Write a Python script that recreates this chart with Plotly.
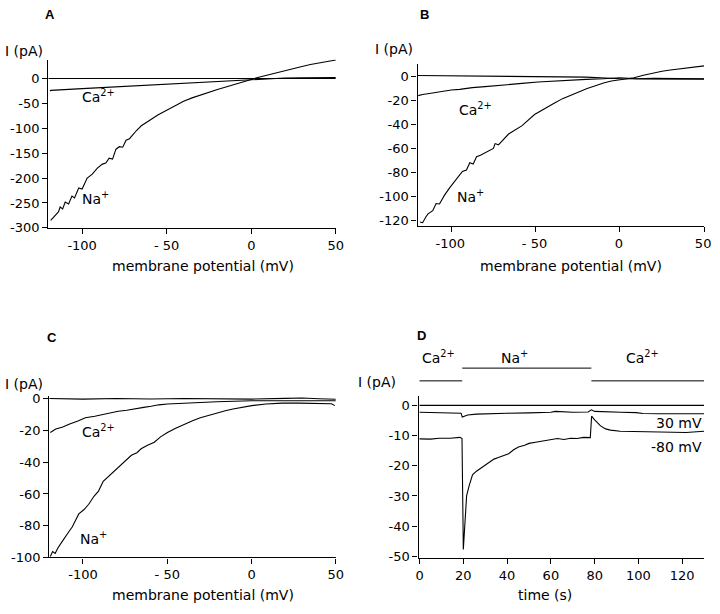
import plotly.graph_objects as go

# ---------------- Panel A ----------------
a_na_v = [-118.6, -116, -114, -113, -111.5, -110, -108, -106, -104.5, -102, -100, -97, -94, -91, -88, -86,
          -84, -82, -80, -78, -76, -74, -72, -68, -65, -60, -55, -50, -45, -40, -35, -30, -25, -20, -15,
          -10, -5, 0, 5, 10, 15, 20, 25, 30, 35, 40, 45, 50]
a_na_i = [-285, -275, -268, -258, -262, -248, -252, -236, -240, -220, -222, -200, -192, -180, -172, -170,
          -160, -162, -142, -137, -138, -124, -121, -105, -95, -84, -73, -64, -55, -46, -39, -33, -27, -22, -17,
          -12.5, -7, -2, 3, 7.5, 12, 16.5, 20, 24, 28, 31, 34, 37]
a_ca_v = [-119, -118.5, -100, -80, -60, -40, -20, 0, 10, 20, 30, 40, 50]
a_ca_i = [-25, -24, -20.5, -17, -13.5, -10, -6, -2, 0, 1, 1.5, 1.5, 2]
a_zero_v = [-120, 50]
a_zero_i = [0, 0]

# ---------------- Panel B ----------------
b_na_v = [-118.6, -117, -115, -113.8, -111, -109, -107, -104, -101, -97, -93.4, -91, -89, -87, -85, -82.7,
          -78, -75, -74, -72, -66, -58, -50.6, -45, -39, -34, -29, -24, -19.4, -14, -9.7, -5, 0, 4, 8.4,
          14, 20, 25, 30, 35, 40, 45, 50]
b_na_i = [-121.4, -122, -117, -114.6, -112, -106, -106.4, -99, -92.9, -86, -79.3, -78, -72, -73, -67, -65.7,
          -62, -60, -56, -57, -48, -41, -31.8, -27, -22.3, -18.5, -15.5, -12.5, -10, -7.5, -5.4, -3.8, -2.7, -2, -1.1,
          1, 3, 4.3, 5.4, 6.3, 7, 7.8, 8.8]
b_ca_v = [-119.6, -117, -113, -110, -107, -100, -95, -87.5, -80, -68, -58, -48.6, -40, -29.2, -20, -9.7, 0,
          5, 10, 20, 30, 40, 50]
b_ca_i = [-16, -15, -14.2, -13.4, -12.8, -11.3, -10.8, -9.3, -8.5, -7.3, -5.8, -4.6, -3.8, -2.7, -2.4, -1.9, -1.1,
          -1.5, -1.9, -1.6, -1.9, -1.8, -1.9]
b_zero_v = [-120, -100, -78, -60, -39, -20, 0, 20, 35, 50]
b_zero_i = [0.8, 0.6, 0.5, 0.3, 0, -0.6, -1.9, -2.2, -2.0, -2.2]

# ---------------- Panel C ----------------
c_na_v = [-119.4, -118, -116.5, -115, -113, -111.2, -108.5, -106.4, -104, -102.5, -99.5, -96.6, -93.5, -90.8,
          -88, -85, -82, -79.1, -75, -71.3, -68, -65.5, -62, -57.7, -54, -49.9, -45, -40.2, -35, -30.4, -25,
          -20.7, -15, -11, -5, 0.1, 8.5, 18.2, 28, 37.7, 47.4, 49.4]
c_na_i = [-99.4, -96.3, -97.5, -94.2, -91, -88, -84, -80.9, -76, -72.6, -70, -66.5, -61.5, -58.2,
          -52, -49, -46, -42.8, -39, -35.6, -34, -31.5, -29.5, -27.4, -24, -21.2, -18.5, -16, -13.8, -11.9, -10.2,
          -8.8, -7.4, -6.4, -5.3, -4.3, -3.3, -2.7, -2.7, -2.7, -3.1, -4.3]
c_ca_v = [-119.4, -116.1, -112, -108.3, -103, -98.6, -93, -88.8, -84, -79.1, -74, -69.4, -64, -59.6, -55,
          -49.9, -40.2, -30.4, -20.7, 0.1, 18.2, 35, 50]
c_ca_i = [-21.2, -19.1, -17.8, -16, -14, -11.9, -11, -9.9, -8.6, -7.8, -7.2, -6.2, -5.4, -4.7, -3.8,
          -3.3, -2.7, -2.3, -1.9, -1.2, -1.2, -0.8, -1.2]
c_zero_v = [-120, -100, -80, -60, -40, -20, 0, 20, 30, 40, 50]
c_zero_i = [0.2, -0.2, 0.2, -0.1, 0.2, 0, -0.2, 0.3, 0.5, 0, -0.3]

# ---------------- Panel D ----------------
d_zero_t = [0, 130]
d_zero_i = [0, 0]
d_30_t = [0, 10, 18, 19, 19.5, 20.5, 22, 26, 32, 40, 50, 60, 62, 70, 77, 78.5, 80, 85, 92, 99, 102, 110, 120, 130]
d_30_i = [-2.3, -2.4, -2.4, -2.6, -3.9, -3.7, -3.2, -2.9, -2.7, -2.6, -2.5, -2.3, -2.0, -2.3, -2.2, -1.5,
          -2.0, -2.2, -2.3, -2.4, -2.7, -2.8, -2.8, -2.8]
d_80_t = [0, 5, 9, 14, 18.5, 19.4, 20.0, 20.8, 21.5, 22.7, 24.2, 26, 28, 30, 31.7, 34, 36, 38, 40.7, 43, 45.2,
          48, 50, 53, 56, 60, 63, 66, 69, 72, 75, 78, 78.6, 80, 82.7, 85, 87.2, 91.7, 99, 106.7, 115, 121.7, 130]
d_80_i = [-11.1, -11.2, -10.9, -10.9, -10.6, -11, -47.7, -38, -30, -26.5, -23, -21.8, -20.8, -19.7, -18.9,
          -17.8, -17.3, -16.8, -16, -14.7, -13.8, -13.2, -12.6, -12.2, -11.8, -11.3, -11.0, -11.3, -10.9, -11,
          -10.6, -10.7, -3.6, -4.8, -6.8, -7.8, -8.2, -8.6, -8.7, -9, -8.9, -9, -8.6]
sol_labels = ["Ca<sup>2+</sup>", "Na<sup>+</sup>", "Ca<sup>2+</sup>"]
sol_start = [0, 19.5, 78.5]
sol_end = [19.5, 78.5, 130]
sol_label_t = [8.5, 43.6, 102]          # where each solution name is written
sol_level = [0.3746, 0.3958, 0.3746]    # paper y of each bar

# ---------------- ticks ----------------
iv_tickvals = [-100, -50, 0, 50]
iv_ticktext = ["-100", "- 50", "0", "50"]
a_yvals = [0, -50, -100, -150, -200, -250, -300]
b_yvals = [0, -20, -40, -60, -80, -100, -120]
c_yvals = [0, -20, -40, -60, -80, -100]
d_xvals = [0, 20, 40, 60, 80, 100, 120]
d_yvals = [0, -10, -20, -30, -40, -50]

FONT = "DejaVu Sans"
LW = 1.1

fig = go.Figure()

def add(x, y, xa, ya):
    fig.add_trace(go.Scatter(x=x, y=y, mode="lines", line=dict(color="black", width=LW),
                             xaxis=xa, yaxis=ya, showlegend=False, hoverinfo="skip"))

add(a_zero_v, a_zero_i, "x", "y")
add(a_ca_v, a_ca_i, "x", "y")
add(a_na_v, a_na_i, "x", "y")
add(b_zero_v, b_zero_i, "x2", "y2")
add(b_ca_v, b_ca_i, "x2", "y2")
add(b_na_v, b_na_i, "x2", "y2")
add(c_zero_v, c_zero_i, "x3", "y3")
add(c_ca_v, c_ca_i, "x3", "y3")
add(c_na_v, c_na_i, "x3", "y3")
add(d_zero_t, d_zero_i, "x4", "y4")
add(d_30_t, d_30_i, "x4", "y4")
add(d_80_t, d_80_i, "x4", "y4")

def lab(v):
    return [str(t) for t in v]

axbase = dict(showline=True, linecolor="black", linewidth=1.3, ticks="outside", ticklen=5,
              tickwidth=1.2, tickcolor="black", showgrid=False, zeroline=False,
              ticklabeloverflow="allow",
              tickfont=dict(family=FONT, size=13, color="black"))

fig.update_layout(
    width=720, height=614, margin=dict(l=0, r=0, t=0, b=0),
    paper_bgcolor="white", plot_bgcolor="white",
    font=dict(family=FONT, color="black", size=14),
    xaxis=dict(axbase, domain=[0.06389, 0.46944], range=[-120, 50], anchor="y",
               tickvals=iv_tickvals, ticktext=iv_ticktext),
    yaxis=dict(axbase, domain=[0.62915, 0.90928], range=[-300, 38], anchor="x",
               tickvals=a_yvals, ticktext=lab(a_yvals)),
    xaxis2=dict(axbase, domain=[0.58472, 0.98889], range=[-120, 50], anchor="y2",
                tickvals=iv_tickvals, ticktext=iv_ticktext, ticklabelshift=-1),
    yaxis2=dict(axbase, domain=[0.63176, 0.90106], range=[-125, 10], anchor="x2",
                tickvals=b_yvals, ticktext=lab(b_yvals)),
    xaxis3=dict(axbase, domain=[0.06528, 0.46944], range=[-120, 50], anchor="y3",
                tickvals=iv_tickvals, ticktext=iv_ticktext),
    yaxis3=dict(axbase, domain=[0.08094, 0.34870], range=[-100, 1.5], anchor="x3",
                tickvals=c_yvals, ticktext=lab(c_yvals)),
    xaxis4=dict(axbase, domain=[0.58611, 0.98889], range=[-0.45, 130], anchor="y4",
                tickvals=d_xvals, ticktext=lab(d_xvals)),
    yaxis4=dict(axbase, domain=[0.07980, 0.34967], range=[-50.55, 3.14], anchor="x4",
                tickvals=d_yvals, ticktext=lab(d_yvals)),
)

ann = []
def txt(text, x, y, xref="paper", yref="paper", size=14, xanchor="center", bold=False, family=FONT, yshift=0):
    ann.append(dict(text=("<b>%s</b>" % text) if bold else text, x=x, y=y, xref=xref, yref=yref,
                    showarrow=False, xanchor=xanchor, yanchor="middle", yshift=yshift,
                    font=dict(family=family, size=size, color="black")))

# panel letters
for t, x, y in [("A", 0.0667, 0.9837), ("B", 0.5944, 0.9837), ("C", 0.0694, 0.4463), ("D", 0.5903, 0.4495)]:
    txt(t, x, y, size=13, bold=True, family="Liberation Sans")
# y axis labels
for x, y in [(0.0, 0.9235), (0.522, 0.9267), (0.0, 0.3697), (0.498, 0.3730)]:
    txt("I (pA)", x, y, xanchor="left")
# x axis titles
txt("membrane potential (mV)", 0.2819, 0.5651)
txt("membrane potential (mV)", 0.8014, 0.5651)
txt("membrane potential (mV)", 0.2819, 0.0179)
txt("time (s)", 0.7639, 0.0179)
# trace labels
txt("Ca<sup>2+</sup>", -90.6, -39, "x", "y", yshift=2)
txt("Na<sup>+</sup>", -91.8, -245, "x", "y", yshift=2)
txt("Ca<sup>2+</sup>", -85.5, -28.6, "x2", "y2", yshift=2)
txt("Na<sup>+</sup>", -88.5, -101, "x2", "y2", yshift=2)
txt("Ca<sup>2+</sup>", -90.8, -21.4, "x3", "y3", yshift=2)
txt("Na<sup>+</sup>", -93.7, -89.3, "x3", "y3", yshift=2)
txt("30 mV", 130, -5.8, "x4", "y4", xanchor="right")
txt("-80 mV", 130, -13.9, "x4", "y4", xanchor="right")

shapes = []
for s, e, lvl, l, lt in zip(sol_start, sol_end, sol_level, sol_labels, sol_label_t):
    shapes.append(dict(type="line", xref="x4", yref="paper", x0=s, x1=e, y0=lvl, y1=lvl,
                       line=dict(color="black", width=1)))
    txt(l, lt, 0.4104, "x4", "paper", yshift=2)

fig.update_layout(annotations=ann, shapes=shapes)
fig.write_html("out.html", config={"displayModeBar": False},
               post_script="document.body.style.margin='0px';document.body.style.overflow='hidden';")
